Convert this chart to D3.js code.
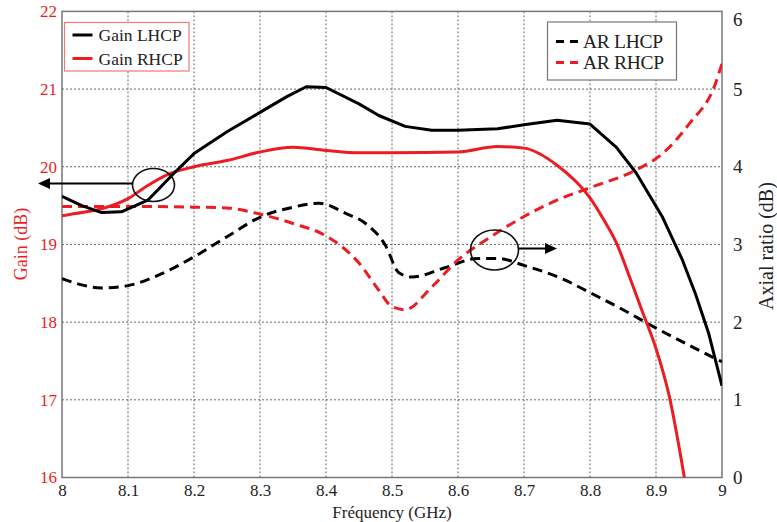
<!DOCTYPE html>
<html>
<head>
<meta charset="utf-8">
<script src="https://cdn.jsdelivr.net/npm/d3@7"></script>
<style>
  html, body { margin: 0; padding: 0; background: #fff; }
  svg { display: block; }
  svg text { font-family: "Liberation Serif", "Times New Roman", serif; }
</style>
</head>
<body>
<svg id="chart" width="777" height="522"></svg>
<script>
// ---------------- DATA ----------------
const freqTicks = [8, 8.1, 8.2, 8.3, 8.4, 8.5, 8.6, 8.7, 8.8, 8.9, 9];
const gainTicks = [16, 17, 18, 19, 20, 21, 22];
const arTicks = [0, 1, 2, 3, 4, 5, 6];

const gainLhcpFreq = [8.00, 8.03, 8.06, 8.09, 8.13, 8.17, 8.20, 8.25, 8.30, 8.34, 8.37, 8.40, 8.45, 8.48, 8.52, 8.56, 8.60, 8.66, 8.70, 8.75, 8.80, 8.84, 8.87, 8.91, 8.94, 8.96, 8.98, 9.00];
const gainLhcp     = [19.62, 19.50, 19.41, 19.42, 19.57, 19.92, 20.17, 20.45, 20.70, 20.90, 21.03, 21.02, 20.81, 20.66, 20.52, 20.47, 20.47, 20.49, 20.54, 20.60, 20.55, 20.25, 19.92, 19.35, 18.80, 18.36, 17.85, 17.18];

const gainRhcpFreq = [8.00, 8.03, 8.06, 8.10, 8.13, 8.16, 8.20, 8.25, 8.30, 8.35, 8.40, 8.45, 8.50, 8.60, 8.66, 8.70, 8.75, 8.80, 8.82, 8.84, 8.86, 8.88, 8.90, 8.92, 8.943];
const gainRhcp     = [19.37, 19.41, 19.46, 19.59, 19.76, 19.90, 20.00, 20.08, 20.19, 20.25, 20.21, 20.18, 20.18, 20.19, 20.26, 20.24, 20.02, 19.60, 19.33, 19.02, 18.58, 18.12, 17.66, 17.05, 16.00];

const arLhcpFreq = [8.00, 8.03, 8.06, 8.10, 8.15, 8.20, 8.25, 8.30, 8.35, 8.39, 8.43, 8.46, 8.49, 8.51, 8.53, 8.58, 8.63, 8.66, 8.70, 8.76, 8.80, 8.85, 8.89, 8.96, 9.00];
const arLhcp     = [2.56, 2.48, 2.44, 2.47, 2.62, 2.84, 3.10, 3.35, 3.48, 3.53, 3.40, 3.27, 2.99, 2.64, 2.58, 2.70, 2.82, 2.82, 2.73, 2.55, 2.38, 2.16, 1.97, 1.66, 1.49];

const arRhcpFreq = [8.00, 8.10, 8.20, 8.25, 8.30, 8.35, 8.40, 8.45, 8.48, 8.50, 8.52, 8.56, 8.60, 8.65, 8.70, 8.75, 8.80, 8.87, 8.91, 8.95, 8.99, 9.00];
const arRhcp     = [3.49, 3.49, 3.48, 3.47, 3.39, 3.27, 3.11, 2.76, 2.41, 2.20, 2.16, 2.45, 2.80, 3.10, 3.36, 3.57, 3.73, 3.96, 4.17, 4.55, 5.07, 5.33];

const legendGain = ["Gain LHCP", "Gain RHCP"];
const legendAR = ["AR LHCP", "AR RHCP"];

// ---------------- LAYOUT ----------------
const RED = "#ec1c24";
const svg = d3.select("#chart");
const L = 62, R = 722, T = 11.4, B = 477.5;

const x = d3.scaleLinear().domain([8, 9]).range([L, R]);
const yG = d3.scaleLinear().domain([16, 22]).range([B, T]);
const yA = d3.scaleLinear().domain([0, 6]).range([B, T]);

svg.append("defs").append("clipPath").attr("id", "clip")
  .append("rect").attr("x", L).attr("y", T).attr("width", R - L).attr("height", B - T);

// grid
const grid = svg.append("g");
grid.selectAll(".gx").data(freqTicks.slice(1, -1)).join("line")
  .attr("x1", d => x(d)).attr("x2", d => x(d)).attr("y1", T).attr("y2", B)
  .attr("stroke", "#666").attr("stroke-width", 1).attr("stroke-dasharray", "2,2");
grid.selectAll(".gy").data(gainTicks.slice(1, -1)).join("line")
  .attr("y1", d => yG(d)).attr("y2", d => yG(d)).attr("x1", L).attr("x2", R)
  .attr("stroke", "#666").attr("stroke-width", 1).attr("stroke-dasharray", "2,2");

// axes
const fontFam = "Liberation Serif, Times New Roman, serif";
const axB = svg.append("g").attr("transform", `translate(0,${B})`)
  .call(d3.axisBottom(x).tickValues(freqTicks).tickFormat(d3.format("")).tickSize(0).tickPadding(6));
axB.select(".domain").remove();
axB.attr("font-family", fontFam);
axB.selectAll("text").style("font-family", fontFam).attr("font-size", 17).attr("fill", "#222");

const axL = svg.append("g").attr("transform", `translate(${L},0)`)
  .call(d3.axisLeft(yG).tickValues(gainTicks).tickFormat(d3.format("d")).tickSize(0).tickPadding(5));
axL.select(".domain").remove();
axL.attr("font-family", fontFam);
axL.selectAll("text").style("font-family", fontFam).attr("font-size", 17).attr("fill", RED);

const axR = svg.append("g").attr("transform", `translate(${R},0)`)
  .call(d3.axisRight(yA).tickValues(arTicks).tickFormat(d3.format("d")).tickSize(0).tickPadding(11));
axR.select(".domain").remove();
axR.attr("font-family", fontFam);
axR.selectAll("text").style("font-family", fontFam).attr("font-size", 19).attr("fill", "#222");
axR.selectAll(".tick").filter(d => d === 6).select("text").attr("dy", "0.75em");

// frame
svg.append("rect").attr("x", L).attr("y", T).attr("width", R - L).attr("height", B - T)
  .attr("fill", "none").attr("stroke", "#777").attr("stroke-width", 1.5);

// axis titles
svg.append("text").attr("x", 392).attr("y", 518).attr("text-anchor", "middle")
  .attr("font-size", 17).attr("fill", "#222").text("Fréquency (GHz)");
svg.append("text").attr("transform", "translate(27,244) rotate(-90)").attr("text-anchor", "middle")
  .attr("font-size", 18).attr("fill", RED).text("Gain (dB)");
svg.append("text").attr("transform", "translate(773,246) rotate(-90)").attr("text-anchor", "middle")
  .attr("font-size", 20).attr("fill", "#222").text("Axial ratio (dB)");

// series
const plot = svg.append("g").attr("clip-path", "url(#clip)");
const zip = (fs, vs) => fs.map((f, i) => [f, vs[i]]);
const lineG = d3.line().x(d => x(d[0])).y(d => yG(d[1]));
const lineGs = d3.line().x(d => x(d[0])).y(d => yG(d[1])).curve(d3.curveMonotoneX);
const lineA = d3.line().x(d => x(d[0])).y(d => yA(d[1])).curve(d3.curveMonotoneX);

plot.append("path").attr("d", lineA(zip(arLhcpFreq, arLhcp)))
  .attr("fill", "none").attr("stroke", "#000").attr("stroke-width", 3).attr("stroke-dasharray", "10,6");
plot.append("path").attr("d", lineA(zip(arRhcpFreq, arRhcp)))
  .attr("fill", "none").attr("stroke", RED).attr("stroke-width", 3).attr("stroke-dasharray", "10,6");
plot.append("path").attr("d", lineGs(zip(gainRhcpFreq, gainRhcp)))
  .attr("fill", "none").attr("stroke", RED).attr("stroke-width", 3);
plot.append("path").attr("d", lineG(zip(gainLhcpFreq, gainLhcp)))
  .attr("fill", "none").attr("stroke", "#000").attr("stroke-width", 3).attr("stroke-linejoin", "round");

// annotations: ellipses + arrows
svg.append("ellipse").attr("cx", 153.5).attr("cy", 185).attr("rx", 21).attr("ry", 16.5)
  .attr("fill", "none").attr("stroke", "#111").attr("stroke-width", 1.6);
svg.append("line").attr("x1", 133).attr("x2", 48).attr("y1", 183.5).attr("y2", 183.5)
  .attr("stroke", "#000").attr("stroke-width", 2);
svg.append("path").attr("d", "M38,183.5 L50,178 L50,189 Z").attr("fill", "#000");

svg.append("ellipse").attr("cx", 494.5).attr("cy", 250).attr("rx", 24).attr("ry", 20)
  .attr("fill", "none").attr("stroke", "#111").attr("stroke-width", 1.6);
svg.append("line").attr("x1", 518.5).attr("x2", 546).attr("y1", 248.5).attr("y2", 248.5)
  .attr("stroke", "#000").attr("stroke-width", 2);
svg.append("path").attr("d", "M557,248.5 L545,243 L545,254 Z").attr("fill", "#000");

// legend 1
const lg1 = svg.append("g");
lg1.append("rect").attr("x", 64.5).attr("y", 22.5).attr("width", 124.5).attr("height", 48.5)
  .attr("fill", "#fff").attr("stroke", "#e77").attr("stroke-width", 1.2);
[["#000", 35], [RED, 58.5]].forEach((c, i) => {
  lg1.append("line").attr("x1", 72.5).attr("x2", 92.5).attr("y1", c[1]).attr("y2", c[1])
    .attr("stroke", c[0]).attr("stroke-width", 3);
  lg1.append("text").attr("x", 98.5).attr("y", c[1] + 6)
    .attr("font-size", 17.5).attr("fill", "#222").text(legendGain[i]);
});

// legend 2
const lg2 = svg.append("g");
lg2.append("rect").attr("x", 547.5).attr("y", 22).attr("width", 129).attr("height", 58)
  .attr("fill", "#fff").attr("stroke", "#777").attr("stroke-width", 1.2);
[["#000", 41.5], [RED, 62.5]].forEach((c, i) => {
  lg2.append("line").attr("x1", 556).attr("x2", 583).attr("y1", c[1]).attr("y2", c[1])
    .attr("stroke", c[0]).attr("stroke-width", 3).attr("stroke-dasharray", "8,6");
  lg2.append("text").attr("x", 583).attr("y", c[1] + 6.5)
    .attr("font-size", 19.5).attr("fill", "#222").attr("letter-spacing", "-0.3").text(legendAR[i]);
});
</script>
</body>
</html>
